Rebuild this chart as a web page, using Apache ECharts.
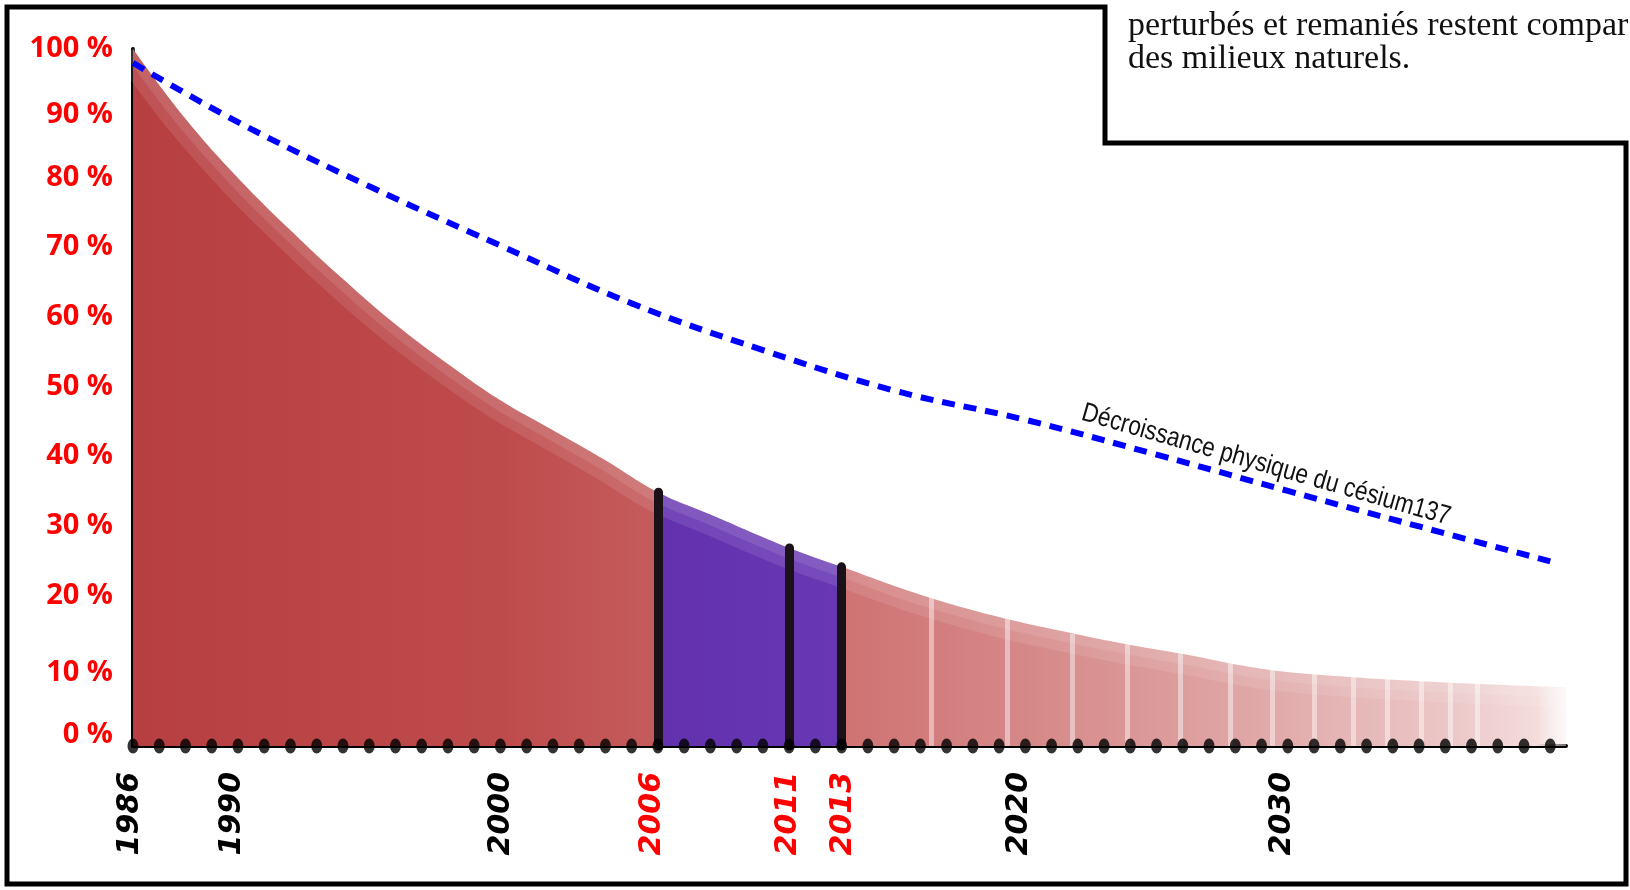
<!DOCTYPE html>
<html>
<head>
<meta charset="utf-8">
<script src="https://cdn.jsdelivr.net/npm/echarts@6/dist/echarts.min.js"></script>
<style>html,body{margin:0;padding:0;background:#fff}#c{width:1630px;height:890px}</style>
</head>
<body>
<div id="c"></div>
<script>
// ---- data ----
const curveYears = [1986, 1988, 1990, 1992, 1994, 1996, 1998, 2000, 2002, 2004, 2006, 2008, 2011, 2013, 2016, 2019, 2022, 2024, 2026, 2029, 2032, 2035, 2038, 2041.5];
const curveValues = [100, 90, 81.5, 74, 67, 60.5, 54.8, 49.6, 45.3, 41, 36.4, 33.2, 28.4, 25.7, 21.7, 18.5, 16, 14.5, 13.2, 11.1, 10, 9.3, 8.8, 8.3];
const cesiumYears = [1986, 1990, 1995, 2000, 2005, 2010, 2015, 2020, 2025, 2030, 2035, 2040];
const cesiumValues = [98, 89.5, 80.3, 71.8, 63.5, 56.8, 51.0, 46.8, 41.8, 36.6, 31.5, 26.5];
const markYears = [2006, 2011, 2013];
const markValues = [36.4, 28.4, 25.7];
const stripeYears = [2016.4, 2019.3, 2021.8, 2023.9, 2025.9, 2027.8, 2029.4, 2031.0, 2032.5, 2033.8, 2035.1, 2036.2, 2037.2];
const stripeValues = [21.6, 18.3, 16.1, 14.6, 13.3, 12.2, 11.1, 10.5, 10.1, 9.8, 9.5, 9.2, 9.0];
const labelYears = [1986, 1990, 2000, 2006, 2011, 2013, 2020, 2030];
const redYears = [2006, 2011, 2013];
const dotYears = [];
for (let y = 1986; y <= 2040; y++) dotYears.push(y);
const curveLabel = 'Décroissance physique du césium137';
const boxLines = ['perturbés et remaniés restent compar', 'des milieux naturels.'];

// ---- build ----
const chart = echarts.init(document.getElementById('c'), null, {renderer: 'canvas'});
const x0 = curveYears[0], x1 = curveYears[curveYears.length - 1];
const off = y => (y - x0) / (x1 - x0);
const areaGrad = new echarts.graphic.LinearGradient(0, 0, 1, 0, [
  {offset: 0, color: '#b73f41'},
  {offset: off(2000), color: '#be4b4c'},
  {offset: off(markYears[0]) - 0.0005, color: '#c55c5c'},
  {offset: off(markYears[0]), color: '#6331ae'},
  {offset: off(markYears[2]), color: '#6737b4'},
  {offset: off(markYears[2]) + 0.0005, color: '#cf7272'},
  {offset: off(2020), color: '#d68888'},
  {offset: off(2030), color: '#e2acac'},
  {offset: off(2036), color: '#ebc6c6'},
  {offset: off(2039.5), color: '#f4dcdc'},
  {offset: 1, color: 'rgba(255,255,255,0)'}
]);

const markLineData = markYears.map((y, i) => [
  {coord: [y, 0], lineStyle: {color: '#1b1119', width: 9, cap: 'round', type: 'solid'}},
  {coord: [y, markValues[i]]}
]);
const stripeData = stripeYears.map((y, i) => [
  {coord: [y, 0], lineStyle: {color: 'rgba(255,255,255,0.45)', width: 5, type: 'solid'}},
  {coord: [y, stripeValues[i]]}
]);
const curveData = curveYears.map((y, i) => [y, curveValues[i]]);

const fontY = {color: '#ff0000', fontFamily: 'Open Sans', fontWeight: 'bold', fontSize: 29, verticalAlign: 'top'};
const fontX = {fontFamily: 'DejaVu Sans', fontWeight: 'bold', fontStyle: 'italic', fontSize: 30};
// small per-label nudges of the rotated year labels
const xStyleKey = {1986: 'a', 1990: 'b', 2000: 'c', 2006: 'b', 2011: 'd', 2013: 'e', 2020: 'b', 2030: 'b'};
const xRich = {
  a: {verticalAlign: 'top', lineHeight: 36},
  b: {verticalAlign: 'top', lineHeight: 42},
  c: {verticalAlign: 'bottom', lineHeight: 32},
  d: {verticalAlign: 'top', lineHeight: 32},
  e: {verticalAlign: 'bottom', lineHeight: 34}
};
const rich = {};
Object.keys(xRich).forEach(k => {
  rich[k + 'k'] = Object.assign({color: '#000'}, fontX, xRich[k]);
  rich[k + 'r'] = Object.assign({color: '#ff0000'}, fontX, xRich[k]);
});

const option = {
  animation: false,
  backgroundColor: '#fff',
  grid: {left: 133, right: 64, top: 49, bottom: 144, containLabel: false},
  xAxis: {
    type: 'value', min: 1986, max: 2040.6, interval: 1,
    axisLine: {show: true, onZero: false, lineStyle: {color: '#000', width: 4}},
    axisTick: {show: false}, splitLine: {show: false},
    axisLabel: {
      showMaxLabel: false,
      formatter: v => labelYears.includes(v) ? '{' + xStyleKey[v] + (redYears.includes(v) ? 'r' : 'k') + '|' + v + '}' : '',
      rotate: 90, margin: 26,
      rich: rich
    }
  },
  yAxis: {
    type: 'value', min: 0, max: 100, interval: 10,
    axisLine: {show: true, lineStyle: {color: '#000', width: 4}},
    axisTick: {show: false}, splitLine: {show: false},
    axisLabel: {
      formatter: v => {
        const k = v === 100 ? 's' : (v === 90 || v === 10) ? 'm' : 'l';
        return '{' + k + '|' + v + ' %}';
      },
      margin: 20, verticalAlign: 'middle',
      rich: {
        s: Object.assign({lineHeight: 29}, fontY),
        m: Object.assign({lineHeight: 37}, fontY),
        l: Object.assign({lineHeight: 51}, fontY)
      }
    }
  },
  series: [
    {
      type: 'line', name: 'remaining', smooth: 0.4, showSymbol: false, clip: false,
      data: curveData,
      lineStyle: {width: 0},
      areaStyle: {color: areaGrad, opacity: 1},
      z: 2
    },
    {
      type: 'line', name: 'band-outer', smooth: 0.4, showSymbol: false, clip: false, silent: true,
      data: curveData, lineStyle: {width: 40, color: 'rgba(255,255,255,0.1)'}, z: 3
    },
    {
      type: 'line', name: 'band-inner', smooth: 0.4, showSymbol: false, clip: false, silent: true,
      data: curveData, lineStyle: {width: 20, color: 'rgba(255,255,255,0.1)'}, z: 3
    },
    {
      type: 'line', name: 'marks', data: [], z: 4, silent: true,
      markLine: {
        silent: true, symbol: ['none', 'none'], label: {show: false}, animation: false,
        lineStyle: {type: 'solid'},
        data: stripeData.concat(markLineData)
      }
    },
    {
      type: 'line', name: 'cesium', smooth: 0.4, showSymbol: false,
      data: cesiumYears.map((y, i) => [y, cesiumValues[i]]),
      lineStyle: {color: '#0000ff', width: 6, type: [13, 9]},
      z: 5
    },
    {
      type: 'scatter', name: 'ticks', symbol: 'circle', symbolSize: [11, 15], clip: false,
      data: dotYears.map(y => [y, 0]),
      itemStyle: {color: '#000'}, z: 6, silent: true
    }
  ],
  graphic: [
    {
      type: 'polygon', silent: true, z: 100,
      shape: {points: [[7, 7], [1105, 7], [1105, 143], [1626, 143], [1626, 884], [7, 884]]},
      style: {fill: 'none', stroke: '#000', lineWidth: 5}
    },
    {
      type: 'text', x: 1128, y: 26, silent: true, z: 100,
      style: {text: boxLines[0], font: '34px "Liberation Serif"', fill: '#111', verticalAlign: 'middle'}
    },
    {
      type: 'text', x: 1128, y: 59, silent: true, z: 100,
      style: {text: boxLines[1], font: '34px "Liberation Serif"', fill: '#111', verticalAlign: 'middle'}
    },
    {
      type: 'text', x: 1266, y: 465, rotation: -16 * Math.PI / 180, scaleX: 0.84, silent: true, z: 100,
      style: {text: curveLabel, font: '27px "Liberation Sans"', fill: '#111', align: 'center', verticalAlign: 'middle'}
    }
  ]
};
chart.setOption(option);
</script>
</body>
</html>
